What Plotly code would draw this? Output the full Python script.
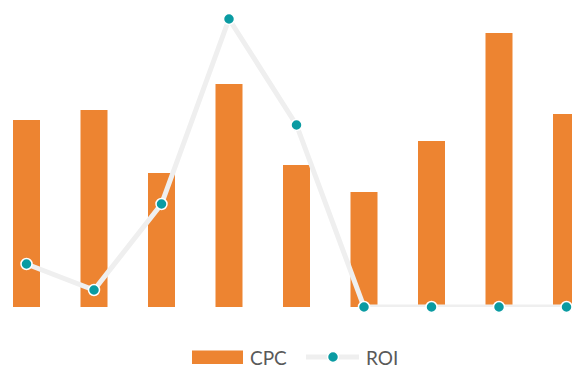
import plotly.graph_objects as go

categories = ["1", "2", "3", "4", "5", "6", "7", "8", "9"]
cpc = [1.87, 1.97, 1.34, 2.23, 1.42, 1.15, 1.66, 2.74, 1.93]
roi = [4.3, 1.7, 10.3, 28.8, 18.2, 0, 0, 0, 0]

W, H, PB = 572, 368, 307  # figure size, plot bottom pixel

BAR_COLOR = "#ED8431"
LINE_COLOR = "#EFEFEF"
MARK_COLOR = "#0A9BA2"

fig = go.Figure()
fig.add_trace(go.Bar(
    x=categories, y=cpc, name="CPC",
    marker=dict(color=BAR_COLOR, line=dict(width=0)),
    width=0.4,
))
fig.add_trace(go.Scatter(
    x=categories, y=roi, name="ROI", yaxis="y2",
    mode="lines+markers",
    line=dict(color=LINE_COLOR, width=5),
    marker=dict(color=MARK_COLOR, size=11, line=dict(color="#FFFFFF", width=1.5)),
    cliponaxis=False,
))

def px(x):
    return x / W

def py(y):
    return (PB - y) / PB

# custom legend (layout decoration)
ly = 357
shapes = [
    dict(type="rect", xref="paper", yref="paper", x0=px(192), x1=px(243),
         y0=py(350.5), y1=py(364), fillcolor=BAR_COLOR, line=dict(width=0), layer="above"),
    dict(type="line", xref="paper", yref="paper", x0=px(306), x1=px(359),
         y0=py(ly), y1=py(ly), line=dict(color=LINE_COLOR, width=5), layer="above"),
    dict(type="circle", xref="paper", yref="paper", x0=px(327.5), x1=px(338.5),
         y0=py(ly - 5.5), y1=py(ly + 5.5), fillcolor=MARK_COLOR,
         line=dict(color="#FFFFFF", width=1.5), layer="above"),
]
font = dict(family="Lato", size=19, color="#595959")
annotations = [
    dict(text="CPC", xref="paper", yref="paper", x=px(248), y=py(ly), xanchor="left",
         yanchor="middle", showarrow=False, font=font),
    dict(text="ROI", xref="paper", yref="paper", x=px(364), y=py(ly), xanchor="left",
         yanchor="middle", showarrow=False, font=font),
]

fig.update_layout(
    width=W, height=H,
    margin=dict(l=0, r=0, t=0, b=H - PB, autoexpand=False),
    plot_bgcolor="white", paper_bgcolor="white",
    showlegend=False,
    shapes=shapes, annotations=annotations,
    xaxis=dict(type="category", range=[-0.3926, 8.0815], showgrid=False,
               showticklabels=False, zeroline=False, showline=False, ticks=""),
    yaxis=dict(range=[0, 3.07], visible=False, showgrid=False),
    yaxis2=dict(range=[0, 30.7], visible=False, overlaying="y", showgrid=False),
)
fig.write_html("out.html")
